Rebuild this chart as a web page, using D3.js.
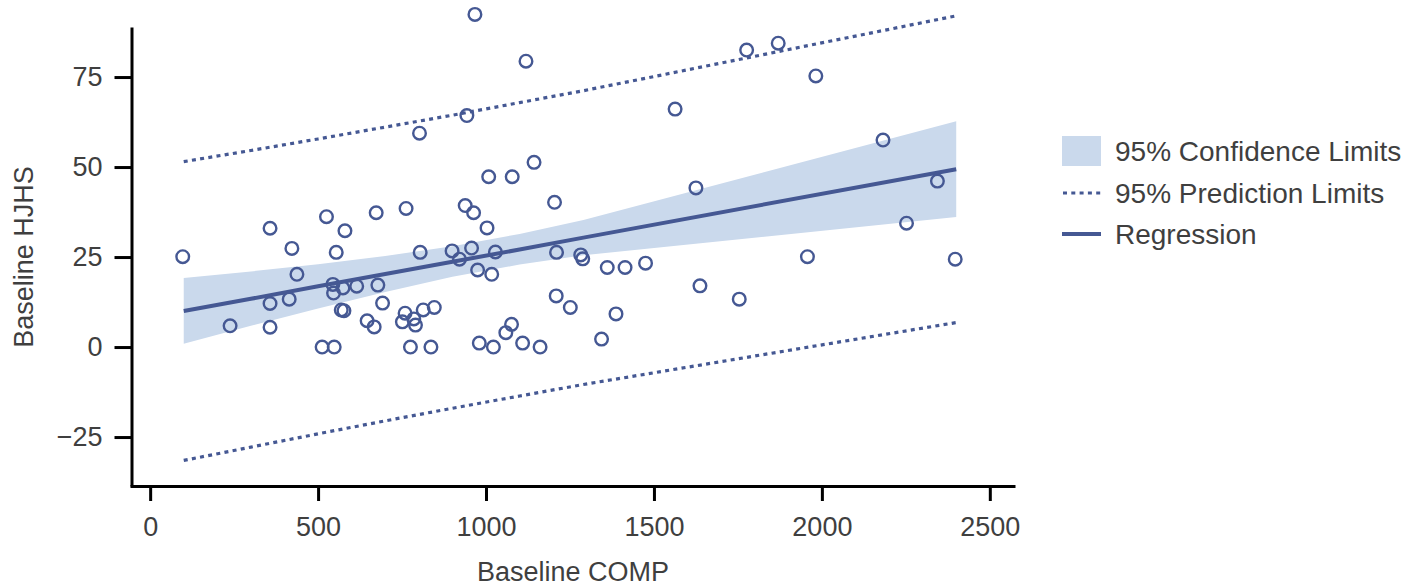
<!DOCTYPE html>
<html>
<head>
<meta charset="utf-8">
<script src="https://cdn.jsdelivr.net/npm/d3@7"></script>
<style>
  body { margin: 0; background: #fff; }
  text { font-family: "Liberation Sans", Arial, sans-serif; fill: #3f3f3f; }
</style>
</head>
<body>
<svg width="1408" height="588"></svg>
<script>
// observed points
var compX = [97, 238, 357, 357, 357, 414, 422, 437, 512, 548,
             525, 580, 554, 544, 546, 574, 569, 577, 615, 646,
             667, 678, 692, 673, 762, 804, 775, 836, 759, 751,
             785, 790, 813, 846, 899, 921, 938, 963, 957, 1003,
             975, 1028, 1017, 980, 1022, 1059, 1076, 1109, 1161, 1204,
             1210, 1209, 1251, 1282, 1288, 1344, 967, 1119, 943, 802,
             1143, 1008, 1078, 1361, 1414, 1475, 1387, 1637, 1754, 1625,
             1563, 1776, 1870, 1982, 2182, 2344, 2252, 1957, 2397];
var hjhsY = [25.1, 5.9, 33.0, 12.1, 5.5, 13.3, 27.4, 20.2, 0, 0,
             36.2, 32.3, 26.3, 17.4, 15.0, 16.4, 10.3, 10.1, 16.9, 7.3,
             5.6, 17.2, 12.2, 37.3, 38.5, 26.3, 0, 0, 9.4, 7.0,
             7.8, 6.1, 10.3, 11.0, 26.7, 24.4, 39.3, 37.3, 27.5, 33.1,
             21.4, 26.4, 20.2, 1.1, 0, 4.0, 6.3, 1.1, 0, 40.2,
             26.3, 14.2, 11.0, 25.6, 24.5, 2.2, 92.4, 79.4, 64.3, 59.4,
             51.3, 47.3, 47.3, 22.1, 22.1, 23.3, 9.2, 17.0, 13.3, 44.2,
             66.1, 82.5, 84.4, 75.3, 57.5, 46.1, 34.4, 25.1, 24.4];

// fit and limits, read at a few COMP values
var bandX   = [100, 300, 500, 700, 900, 1100, 1290, 2400];
var fitY    = [10.0, 13.4, 16.9, 20.3, 23.7, 27.1, 30.4, 49.4];
var clLower = [0.9, 5.9, 10.7, 15.3, 19.5, 22.9, 25.5, 36.1];
var clUpper = [19.2, 21.0, 23.0, 25.3, 28.0, 31.4, 35.3, 62.7];
var plLower = [-31.5, -27.8, -24.1, -20.5, -17.0, -13.6, -10.4, 6.8];
var plUpper = [51.5, 54.6, 57.8, 61.1, 64.4, 67.9, 71.2, 92.0];

var xTicks = [0, 500, 1000, 1500, 2000, 2500];
var yTicks = [-25, 0, 25, 50, 75];
var legendLabels = ["95% Confidence Limits", "95% Prediction Limits", "Regression"];

var blue = "#455893",
    bandFill = "#cad9ec";

var svg = d3.select("svg");

var x = d3.scaleLinear().domain([-60, 2575]).range([130, 1015]);
var y = d3.scaleLinear().domain([-38.6, 88.9]).range([486, 27]);

var bands = bandX.map(function(d, i) {
  return {x: d, fit: fitY[i], clLo: clLower[i], clHi: clUpper[i], plLo: plLower[i], plHi: plUpper[i]};
});

// confidence band
svg.append("path")
    .datum(bands)
    .attr("fill", bandFill)
    .attr("d", d3.area()
        .x(function(d) { return x(d.x); })
        .y0(function(d) { return y(d.clLo); })
        .y1(function(d) { return y(d.clHi); }));

// prediction limits
["plLo", "plHi"].forEach(function(k) {
  svg.append("path")
      .datum(bands)
      .attr("fill", "none")
      .attr("stroke", blue)
      .attr("stroke-width", 3.2)
      .attr("stroke-dasharray", "4,4.3")
      .attr("d", d3.line()
          .x(function(d) { return x(d.x); })
          .y(function(d) { return y(d[k]); }));
});

// regression line
svg.append("path")
    .datum(bands)
    .attr("fill", "none")
    .attr("stroke", blue)
    .attr("stroke-width", 4)
    .attr("d", d3.line()
        .x(function(d) { return x(d.x); })
        .y(function(d) { return y(d.fit); }));

// points
svg.append("g")
  .selectAll("circle")
  .data(compX.map(function(d, i) { return [d, hjhsY[i]]; }))
  .enter().append("circle")
    .attr("cx", function(d) { return x(d[0]); })
    .attr("cy", function(d) { return y(d[1]); })
    .attr("r", 6.3)
    .attr("fill", "none")
    .attr("stroke", blue)
    .attr("stroke-width", 2.4);

// axes
var gy = svg.append("g")
    .attr("transform", "translate(131.5,0)")
    .call(d3.axisLeft(y).tickValues(yTicks).tickSize(17).tickSizeOuter(0).tickPadding(12));

var gx = svg.append("g")
    .attr("transform", "translate(0,486)")
    .call(d3.axisBottom(x).tickValues(xTicks).tickFormat(d3.format("d"))
        .tickSize(15).tickSizeOuter(0).tickPadding(16));

[gx, gy].forEach(function(g) {
  g.attr("font-size", null).attr("font-family", null);
  g.select(".domain").attr("stroke", "#000").attr("stroke-width", 3);
  g.selectAll(".tick line").attr("stroke", "#000").attr("stroke-width", 3);
  g.selectAll(".tick text").attr("fill", "#3f3f3f").style("font-size", "27px");
});

svg.append("text")
    .attr("x", 573)
    .attr("y", 581)
    .attr("text-anchor", "middle")
    .style("font-size", "27px")
    .text("Baseline COMP");

svg.append("text")
    .attr("transform", "translate(33,257) rotate(-90)")
    .attr("text-anchor", "middle")
    .style("font-size", "27px")
    .text("Baseline HJHS");

// legend
var legend = svg.append("g").attr("transform", "translate(1062,0)");
var rowY = [151, 193, 234];

legend.append("rect")
    .attr("x", 0).attr("y", rowY[0] - 15)
    .attr("width", 39).attr("height", 30)
    .attr("fill", bandFill);

legend.append("line")
    .attr("x1", 1).attr("x2", 39)
    .attr("y1", rowY[1]).attr("y2", rowY[1])
    .attr("stroke", blue).attr("stroke-width", 3.2)
    .attr("stroke-dasharray", "4,4.3");

legend.append("line")
    .attr("x1", 0).attr("x2", 39)
    .attr("y1", rowY[2]).attr("y2", rowY[2])
    .attr("stroke", blue).attr("stroke-width", 4);

legend.selectAll("text.lab")
  .data(legendLabels)
  .enter().append("text")
    .attr("class", "lab")
    .attr("x", 53)
    .attr("y", function(d, i) { return rowY[i]; })
    .attr("dy", "0.35em")
    .style("font-size", "28px")
    .text(function(d) { return d; });
</script>
</body>
</html>
